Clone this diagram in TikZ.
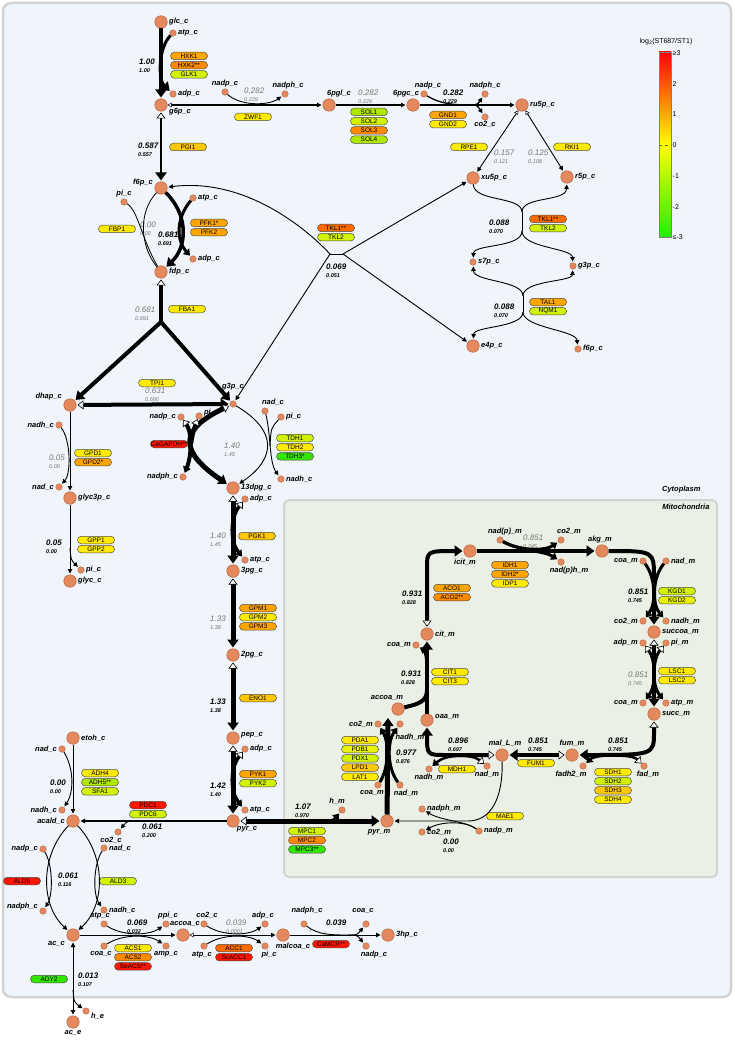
\documentclass[tikz,border=0pt]{standalone}
\usepackage{fontspec}
\setmainfont{Liberation Sans}
\usetikzlibrary{arrows.meta,positioning}

\definecolor{bgblue}{HTML}{EFF5FA}
\definecolor{mitogreen}{HTML}{EAF0E5}
\definecolor{framegray}{HTML}{D3D3D3}
\definecolor{metfill}{HTML}{E3895D}
\definecolor{metdraw}{HTML}{B8653E}
\definecolor{fluxgray}{HTML}{777777}
\definecolor{ered}{HTML}{FF1500}
\definecolor{eorred}{HTML}{FF6A00}
\definecolor{edorange}{HTML}{FF8A00}
\definecolor{eorange}{HTML}{FFA500}
\definecolor{egold}{HTML}{FFC800}
\definecolor{eyellow}{HTML}{FFEA00}
\definecolor{eyg}{HTML}{E6F200}
\definecolor{eygreen}{HTML}{D2F200}
\definecolor{elgreen}{HTML}{AEE800}
\definecolor{egreen}{HTML}{33E600}
\definecolor{bargreen}{HTML}{20EE00}

\newcommand{\fsm}{\fontsize{5.5}{6}\selectfont}

\tikzset{
	tipA/.tip={Triangle[length=4.5pt,width=4.5pt]},
	tipB/.tip={Triangle[length=8pt,width=11pt]},
	tipC/.tip={Triangle[open,length=4pt,width=4.5pt,line width=0.5pt,fill=white]},
	tipD/.tip={Triangle[open,length=6pt,width=9pt,line width=0.6pt,fill=white]},
	tipE/.tip={Triangle[length=6pt,width=8pt]},
	met/.style={circle, draw=metdraw, fill=metfill, line width=0.5pt, minimum size=12.5pt, inner sep=0pt},
	cof/.style={circle, draw=metdraw, fill=metfill, line width=0.4pt, minimum size=6.5pt, inner sep=0pt},
	enz/.style={draw=black!70, fill=#1, line width=0.5pt, rounded corners=3.7pt, minimum width=37pt, minimum height=7.5pt, inner sep=0pt, font=\fontsize{6.5}{7}\selectfont},
	flux/.style={anchor=north west, align=left, inner sep=0pt, font=\fontsize{8}{8}\selectfont\bfseries\itshape},
	fluxg/.style={flux, text=fluxgray, font=\fontsize{8}{8}\selectfont\itshape},
	tick/.style={anchor=west, inner sep=0.5pt, font=\fontsize{7}{8}\selectfont},
	thn/.style={line width=#1, shorten >=1pt, -tipA},
	thn/.default=0.9pt,
	thnr/.style={line width=0.9pt, shorten >=1pt, tipC-tipA},
	flx/.style={line width=#1, shorten >=1pt, -tipB},
	flxr/.style={line width=#1, shorten >=1pt, shorten <=1pt, tipD-tipB},
	sid/.style={line width=#1, shorten >=1pt, -tipE},
	sidr/.style={line width=#1, shorten >=1pt, tipD-tipE},
}

\begin{document}
\begin{tikzpicture}[x=1pt, y=-1pt, label distance=1pt,
	every label/.style={font=\fontsize{7.5}{8}\selectfont\bfseries\itshape, inner sep=0.5pt}]
	\useasboundingbox (0,0) rectangle (735,1040);

	% Frame
	\fill [white] (0,0) rectangle (735,1040);
	\draw [draw=framegray, line width=2.5pt, fill=bgblue, rounded corners=8pt] (3,3) rectangle (731,997);
	\draw [draw=framegray, line width=2pt, fill=mitogreen, rounded corners=5pt] (284,500) rectangle (717,877);
	\node [anchor=east, font=\fontsize{7.5}{8}\selectfont\bfseries\itshape] (cyto) at (704,490) {Cytoplasm};
	\node [anchor=east, font=\fontsize{7.5}{8}\selectfont\bfseries\itshape] (mito) at (713,507) {Mitochondria};

	% Nodes {glycolysis, pentose phosphate}
	\node [met, label=right:glc\_c]					(glc)		at (161,22)		{};
	\node [cof, label=right:atp\_c]					(atp1)		at (173,33)		{};
	\node [cof, label=right:adp\_c]					(adp1)		at (173,94)		{};
	\node [met, label={[yshift=-7pt]right:g6p\_c}]		(g6p)		at (161,105)	{};
	\node [cof, label=above:nadp\_c]				(nadp1)		at (225,92)		{};
	\node [cof, label={[xshift=3pt]above:nadph\_c}]	(nadph1)	at (285,94)		{};
	\node [met, label={[xshift=10pt]above:6pgl\_c}]	(pgl)		at (329,105)	{};
	\node [met, label={[xshift=-7pt]above:6pgc\_c}]	(pgc)		at (413,105)	{};
	\node [cof, label={[xshift=4pt]above:nadp\_c}]	(nadp2)		at (424,94)		{};
	\node [cof, label=above:nadph\_c]				(nadph2)	at (485,94)		{};
	\node [cof, label={[yshift=1pt]below:co2\_c}]		(co21)		at (485,117)	{};
	\node [met, label=right:ru5p\_c]				(ru5p)		at (522,105)	{};
	\node [met, label=right:xu5p\_c]				(xu5p)		at (473,178)	{};
	\node [met, label=right:r5p\_c]					(r5p)		at (567,177)	{};
	\node [cof, label=right:s7p\_c]					(s7p)		at (473,262)	{};
	\node [cof, label=right:g3p\_c]					(g3pb)		at (573,266)	{};
	\node [met, label=right:e4p\_c]					(e4p)		at (473,346)	{};
	\node [cof, label=right:f6p\_c]					(f6pb)		at (578,349)	{};
	\node [met, label={[yshift=5pt]left:f6p\_c}]		(f6p)		at (161,188)	{};
	\node [cof, label=above:pi\_c]					(pi1)		at (124,202)	{};
	\node [cof, label=right:atp\_c]					(atp2)		at (193,198)	{};
	\node [cof, label=right:adp\_c]					(adp2)		at (193,259)	{};
	\node [met, label=right:fdp\_c]					(fdp)		at (161,272)	{};
	\node [met, label={[yshift=8pt]left:dhap\_c}]		(dhap)		at (70,405)		{};
	\node [cof, label={[yshift=9pt]above:g3p\_c}]		(g3p)		at (233,404)	{};
	\node [cof, label=left:nadh\_c]					(nadh1)		at (59,425)		{};
	\node [cof, label=left:nad\_c]					(nad1)		at (59,487)		{};
	\node [met, label=right:glyc3p\_c]				(glyc3p)	at (70,498)		{};
	\node [cof, label=right:pi\_c]					(pi2)		at (81,570)		{};
	\node [met, label=right:glyc\_c]				(glyc)		at (70,581)		{};
	\node [cof, label=left:nadp\_c]					(nadp3)		at (181,417)	{};
	\node [cof, label={[yshift=3pt]right:pi\_c}]		(pi3)		at (199,416)	{};
	\node [cof, label=left:nadph\_c]				(nadph3)	at (183,477)	{};
	\node [cof, label={[xshift=8pt]above:nad\_c}]		(nad2)		at (265,411)	{};
	\node [cof, label=right:pi\_c]					(pi4)		at (281,417)	{};
	\node [cof, label=right:nadh\_c]				(nadh2)		at (281,479)	{};
	\node [met, label=right:13dpg\_c]				(dpg)		at (233,488)	{};
	\node [cof, label=right:adp\_c]					(adp3)		at (245,499)	{};
	\node [cof, label=right:atp\_c]					(atp3)		at (245,560)	{};
	\node [met, label=right:3pg\_c]					(pg3)		at (233,571)	{};
	\node [met, label=right:2pg\_c]					(pg2)		at (233,655)	{};
	\node [met, label={[yshift=3pt]right:pep\_c}]		(pep)		at (233,738)	{};
	\node [cof, label=right:adp\_c]					(adp4)		at (245,749)	{};
	\node [cof, label=right:atp\_c]					(atp4)		at (245,810)	{};
	\node [met, label={[xshift=14pt,yshift=3pt]below:pyr\_c}]	(pyr)	at (233,821)	{};

	% Nodes {ethanol, acetate, malonyl-coa}
	\node [met, label=right:etoh\_c]				(etoh)		at (73,738)		{};
	\node [cof, label=left:nad\_c]					(nad3)		at (62,749)		{};
	\node [cof, label=left:nadh\_c]					(nadh3)		at (62,810)		{};
	\node [met, label=left:acald\_c]				(acald)		at (73,821)		{};
	\node [cof, label={[xshift=-7pt]below:co2\_c}]	(co22)		at (118,832)	{};
	\node [cof, label=right:nad\_c]					(nad4)		at (104,848)	{};
	\node [cof, label=left:nadp\_c]					(nadp4)		at (43,849)		{};
	\node [cof, label={[yshift=4pt]left:nadph\_c}]	(nadph4)	at (43,911)		{};
	\node [cof, label=right:nadh\_c]				(nadh4)		at (104,910)	{};
	\node [cof, label={[xshift=-4pt]above:atp\_c}]	(atp5)		at (104,924)	{};
	\node [met, label={[yshift=-9pt]left:ac\_c}]		(ac)		at (73,935)		{};
	\node [cof, label={[xshift=-3pt]below:coa\_c}]	(coa1)		at (104,946)	{};
	\node [cof, label={[xshift=2pt]above:ppi\_c}]		(ppi1)		at (166,924)	{};
	\node [cof, label=below:amp\_c]					(amp1)		at (166,946)	{};
	\node [met, label={[xshift=2pt]above:accoa\_c}]	(accoa)		at (183,935)	{};
	\node [cof, label={[xshift=3pt]above:co2\_c}]		(co23)		at (204,924)	{};
	\node [cof, label={[xshift=-2pt]below:atp\_c}]	(atp6)		at (204,946)	{};
	\node [cof, label={[xshift=-2pt]above:adp\_c}]	(adp5)		at (265,924)	{};
	\node [cof, label={[xshift=4pt]below:pi\_c}]		(pi5)		at (265,946)	{};
	\node [met, label={[xshift=10pt]below:malcoa\_c}]	(malcoa)	at (283,935)	{};
	\node [cof, label={[xshift=3pt,yshift=5pt]above:nadph\_c}]	(nadph5)	at (304,924)	{};
	\node [cof, label={[xshift=-3pt,yshift=5pt]above:coa\_c}]	(coa2)		at (366,924)	{};
	\node [cof, label={[xshift=8pt]below:nadp\_c}]	(nadp5)		at (366,946)	{};
	\node [met, label=right:3hp\_c]					(hp3)		at (388,935)	{};
	\node [cof, label={[yshift=-5pt]right:h\_e}]		(he)		at (86,1011)	{};
	\node [met, label=below:ac\_e]					(ace)		at (73,1022)	{};

	% Nodes {mitochondria}
	\node [cof, label={[xshift=-5pt]above:h\_m}]		(hm)		at (342,810)	{};
	\node [met, label={[xshift=-8pt]below:pyr\_m}]	(pyrm)		at (387,821)	{};
	\node [cof, label=right:nadph\_m]				(nadph6)	at (422,809)	{};
	\node [cof, label=right:co2\_m]					(co24)		at (422,832)	{};
	\node [cof, label=right:nadp\_m]				(nadp6)		at (479,831)	{};
	\node [cof, label={[xshift=-6pt]below:coa\_m}]	(coa3)		at (378,785)	{};
	\node [cof, label={[xshift=6pt]below:nad\_m}]		(nad5)		at (400,785)	{};
	\node [cof, label=left:co2\_m]					(co25)		at (378,724)	{};
	\node [cof, label={[xshift=10pt,yshift=-5pt]below:nadh\_m}]	(nadh5)	at (400,724)	{};
	\node [met, label={[xshift=-11pt]above:accoa\_m}]	(accoam)	at (398,709)	{};
	\node [met, label={[yshift=3pt]right:oaa\_m}]		(oaam)		at (427,720)	{};
	\node [met, label=right:cit\_m]					(citm)		at (427,634)	{};
	\node [cof, label=left:coa\_m]					(coa4)		at (416,645)	{};
	\node [met, label={[xshift=-5pt]below:icit\_m}]	(icitm)		at (470,551)	{};
	\node [cof, label={[xshift=5pt]above:nad(p)\_m}]	(nadp7)		at (500,540)	{};
	\node [cof, label={[xshift=8pt]above:co2\_m}]		(co26)		at (561,540)	{};
	\node [cof, label={[xshift=8pt]below:nad(p)h\_m}]	(nadph7)	at (561,562)	{};
	\node [met, label={[xshift=-2pt]above:akg\_m}]	(akgm)		at (602,551)	{};
	\node [cof, label=left:coa\_m]					(coa5)		at (643,561)	{};
	\node [cof, label=right:nad\_m]					(nad6)		at (666,561)	{};
	\node [cof, label=left:co2\_m]					(co27)		at (643,621)	{};
	\node [cof, label=right:nadh\_m]				(nadh6)		at (666,621)	{};
	\node [met, label=right:succoa\_m]				(succoam)	at (654,632)	{};
	\node [cof, label=left:adp\_m]					(adp6)		at (643,643)	{};
	\node [cof, label=right:pi\_m]					(pi6)		at (666,643)	{};
	\node [cof, label=left:coa\_m]					(coa6)		at (643,703)	{};
	\node [cof, label=right:atp\_m]					(atp7)		at (666,703)	{};
	\node [met, label=right:succ\_m]				(succm)		at (654,714)	{};
	\node [met, label=above:fum\_m]					(fumm)		at (572,755)	{};
	\node [met, label={[xshift=3pt]above:mal\_L\_m}]	(malm)		at (502,755)	{};
	\node [cof, label=below:nadh\_m]				(nadh7)		at (429,769)	{};
	\node [cof, label=below:nad\_m]					(nad7)		at (487,766)	{};
	\node [cof, label={[xshift=-12pt]below:fadh2\_m}]	(fadh2)		at (583,766)	{};
	\node [cof, label={[xshift=4pt]below:fad\_m}]		(fad)		at (644,766)	{};

	% Enzymes
	\node [enz=eorange]								(HXK1)		at (189,56)		{HXK1};
	\node [enz=edorange, below=1.2pt of HXK1]		(HXK2)						{HXK2**};
	\node [enz=eygreen, below=1.2pt of HXK2]			(GLK1)						{GLK1};
	\node [enz=eyellow]								(ZWF1)		at (253,117)	{ZWF1};
	\node [enz=elgreen]								(SOL1)		at (369,112)	{SOL1};
	\node [enz=eygreen, below=1.2pt of SOL1]			(SOL2)						{SOL2};
	\node [enz=edorange, below=1.2pt of SOL2]		(SOL3)						{SOL3};
	\node [enz=elgreen, below=1.2pt of SOL3]			(SOL4)						{SOL4};
	\node [enz=eorange]								(GND1)		at (448,115)	{GND1};
	\node [enz=eyellow, below=1.2pt of GND1]			(GND2)						{GND2};
	\node [enz=eyellow]								(RPE1)		at (469,147)	{RPE1};
	\node [enz=eyellow]								(RKI1)		at (572,147)	{RKI1};
	\node [enz=eorred]								(TKL1a)		at (548,219)	{TKL1**};
	\node [enz=eygreen, below=1.2pt of TKL1a]		(TKL2a)						{TKL2};
	\node [enz=eorange]								(TAL1)		at (548,302)	{TAL1};
	\node [enz=eygreen, below=1.2pt of TAL1]			(NQM1)						{NQM1};
	\node [enz=eorred]								(TKL1b)		at (336,228)	{TKL1**};
	\node [enz=eygreen, below=1.2pt of TKL1b]		(TKL2b)						{TKL2};
	\node [enz=egold]								(PGI1)		at (188,147)	{PGI1};
	\node [enz=eyellow]								(FBP1)		at (117,229)	{FBP1};
	\node [enz=eorange]								(PFK1)		at (209,223)	{PFK1*};
	\node [enz=eorange, below=1.2pt of PFK1]			(PFK2)						{PFK2};
	\node [enz=eyellow]								(FBA1)		at (187,309)	{FBA1};
	\node [enz=eyellow]								(TPI1)		at (157,383)	{TPI1};
	\node [enz=eyellow]								(GPD1)		at (93,453)		{GPD1};
	\node [enz=eorange, below=1.2pt of GPD1]			(GPD2)						{GPD2*};
	\node [enz=eyellow]								(GPP1)		at (96,540)		{GPP1};
	\node [enz=eyellow, below=1.2pt of GPP1]			(GPP2)						{GPP2};
	\node [enz=ered]									(CaGAPDH)	at (169,444)	{CaGAPDH**};
	\node [enz=eygreen]								(TDH1)		at (295,438)	{TDH1};
	\node [enz=eyellow, below=1.2pt of TDH1]			(TDH2)						{TDH2};
	\node [enz=egreen, below=1.2pt of TDH2]			(TDH3)						{TDH3*};
	\node [enz=egold]								(PGK1)		at (257,536)	{PGK1};
	\node [enz=eorange]								(GPM1)		at (258,608)	{GPM1};
	\node [enz=eyellow, below=1.2pt of GPM1]			(GPM2)						{GPM2};
	\node [enz=eorange, below=1.2pt of GPM2]			(GPM3)						{GPM3};
	\node [enz=egold]								(ENO1)		at (258,698)	{ENO1};
	\node [enz=eorange]								(PYK1)		at (258,774)	{PYK1};
	\node [enz=eygreen, below=1.2pt of PYK1]			(PYK2)						{PYK2};
	\node [enz=eyellow]								(ADH4)		at (100,773)	{ADH4};
	\node [enz=elgreen, below=1.2pt of ADH4]			(ADH5)						{ADH5**};
	\node [enz=eygreen, below=1.2pt of ADH5]			(SFA1)						{SFA1};
	\node [enz=ered]									(PDC1)		at (148,805)	{PDC1};
	\node [enz=eygreen, below=1.2pt of PDC1]			(PDC6)						{PDC6};
	\node [enz=ered]									(ALD6)		at (22,881)		{ALD6};
	\node [enz=eygreen]								(ALD3)		at (118,881)	{ALD3};
	\node [enz=eyellow]								(ACS1)		at (133,948)	{ACS1};
	\node [enz=edorange, below=1.2pt of ACS1]		(ACS2)						{ACS2};
	\node [enz=ered, below=1.2pt of ACS2]			(SeACS)						{SeACS**};
	\node [enz=eorred]								(ACC1)		at (234,948)	{ACC1};
	\node [enz=ered, below=1.2pt of ACC1]			(ScACC1)					{ScACC1};
	\node [enz=ered]									(CaMCR)		at (331,944)	{CaMCR**};
	\node [enz=egreen]								(ADY2)		at (49,979)		{ADY2};
	\node [enz=eygreen]								(MPC1)		at (307,831)	{MPC1};
	\node [enz=edorange, below=1.2pt of MPC1]		(MPC2)						{MPC2};
	\node [enz=egreen, below=1.2pt of MPC2]			(MPC3)						{MPC3**};
	\node [enz=eyellow]								(PDA1)		at (360,740)	{PDA1};
	\node [enz=eyg, below=1.2pt of PDA1]				(PDB1)						{PDB1};
	\node [enz=eygreen, below=1.2pt of PDB1]			(PDX1)						{PDX1};
	\node [enz=egold, below=1.2pt of PDX1]			(LPD1)						{LPD1};
	\node [enz=eyellow, below=1.2pt of LPD1]			(LAT1)						{LAT1};
	\node [enz=eyellow]								(CIT1)		at (450,672)	{CIT1};
	\node [enz=eyellow, below=1.2pt of CIT1]			(CIT3)						{CIT3};
	\node [enz=eorange]								(ACO1)		at (452,588)	{ACO1};
	\node [enz=edorange, below=1.2pt of ACO1]		(ACO2)						{ACO2**};
	\node [enz=eorange]								(IDH1)		at (510,565)	{IDH1};
	\node [enz=eorange, below=1.2pt of IDH1]			(IDH2)						{IDH2*};
	\node [enz=eyellow, below=1.2pt of IDH2]			(IDP1)						{IDP1};
	\node [enz=eygreen]								(KGD1)		at (677,591)	{KGD1};
	\node [enz=eyg, below=1.2pt of KGD1]				(KGD2)						{KGD2};
	\node [enz=eyellow]								(LSC1)		at (677,671)	{LSC1};
	\node [enz=eyellow, below=1.2pt of LSC1]			(LSC2)						{LSC2};
	\node [enz=eyellow]								(SDH1)		at (613,772)	{SDH1};
	\node [enz=eygreen, below=1.2pt of SDH1]			(SDH2)						{SDH2};
	\node [enz=egold, below=1.2pt of SDH2]			(SDH3)						{SDH3};
	\node [enz=eyellow, below=1.2pt of SDH3]			(SDH4)						{SDH4};
	\node [enz=eyellow]								(MDH1)		at (457,769)	{MDH1};
	\node [enz=eyellow]								(FUM1)		at (536,763)	{FUM1};
	\node [enz=eyellow]								(MAE1)		at (505,816)	{MAE1};

	% Fluxes
	\node [flux]	(fHXK)	at (139,59)		{1.00\\\fsm 1.00};
	\node [fluxg]	(fZWF)	at (244,88)		{0.282\\\fsm 0.229};
	\node [fluxg]	(fSOL)	at (358,90)		{0.282\\\fsm 0.229};
	\node [flux]	(fGND)	at (443,90)		{0.282\\\fsm 0.229};
	\node [fluxg]	(fRPE)	at (494,150)	{0.157\\\fsm 0.121};
	\node [fluxg]	(fRKI)	at (528,150)	{0.125\\\fsm 0.108};
	\node [flux]	(fTKLa)	at (489,220)	{0.088\\\fsm 0.070};
	\node [flux]	(fTAL)	at (494,304)	{0.088\\\fsm 0.070};
	\node [flux]	(fTKLb)	at (326,264)	{0.069\\\fsm 0.051};
	\node [flux]	(fPGI)	at (138,143)	{0.587\\\fsm 0.557};
	\node [fluxg]	(fFBP)	at (140,222)	{0.00\\\fsm 0.00};
	\node [flux]	(fPFK)	at (158,232)	{0.681\\\fsm 0.691};
	\node [fluxg]	(fFBA)	at (135,307)	{0.681\\\fsm 0.691};
	\node [fluxg]	(fTPI)	at (145,388)	{0.631\\\fsm 0.690};
	\node [fluxg]	(fGPD)	at (49,455)		{0.05\\\fsm 0.00};
	\node [flux]	(fGPP)	at (46,540)		{0.05\\\fsm 0.00};
	\node [fluxg]	(fGAP)	at (224,443)	{1.40\\\fsm 1.45};
	\node [fluxg]	(fPGK)	at (210,533)	{1.40\\\fsm 1.45};
	\node [fluxg]	(fGPM)	at (210,616)	{1.33\\\fsm 1.38};
	\node [flux]	(fENO)	at (210,699)	{1.33\\\fsm 1.38};
	\node [flux]	(fPYK)	at (210,783)	{1.42\\\fsm 1.40};
	\node [flux]	(fADH)	at (50,780)		{0.00\\\fsm 0.00};
	\node [flux]	(fPDC)	at (142,824)	{0.061\\\fsm 0.200};
	\node [flux]	(fALD)	at (58,873)		{0.061\\\fsm 0.116};
	\node [flux]	(fACS)	at (127,920)	{0.069\\\fsm 0.032};
	\node [fluxg]	(fACC)	at (226,920)	{0.039\\\fsm 0.0001};
	\node [flux]	(fMCR)	at (326,920)	{0.039};
	\node [flux]	(fADY)	at (78,973)		{0.013\\\fsm 0.107};
	\node [flux]	(fMPC)	at (295,804)	{1.07\\\fsm 0.970};
	\node [flux]	(fPDA)	at (396,750)	{0.977\\\fsm 0.876};
	\node [flux]	(fCIT)	at (401,671)	{0.931\\\fsm 0.828};
	\node [flux]	(fACO)	at (402,591)	{0.931\\\fsm 0.828};
	\node [fluxg]	(fIDH)	at (523,535)	{0.851\\\fsm 0.745};
	\node [flux]	(fKGD)	at (628,589)	{0.851\\\fsm 0.745};
	\node [fluxg]	(fLSC)	at (628,672)	{0.851\\\fsm 0.745};
	\node [flux]	(fSDH)	at (608,738)	{0.851\\\fsm 0.745};
	\node [flux]	(fFUM)	at (528,738)	{0.851\\\fsm 0.745};
	\node [flux]	(fMDH)	at (448,738)	{0.896\\\fsm 0.697};
	\node [flux]	(fMAE)	at (443,839)	{0.00\\\fsm 0.00};
	\node [font=\fontsize{3.5}{4}\selectfont, text=fluxgray]	(st1)	at (310,931)	{2};
	\node [font=\fontsize{3.5}{4}\selectfont, text=fluxgray]	(st2)	at (325,933)	{2};
	\node [font=\fontsize{3.5}{4}\selectfont, text=fluxgray]	(st3)	at (361,939)	{2};

	% Paths {glycolysis}
	\draw [flx=3.5pt]	(glc) -- (g6p);
	\draw [flx=3pt]		(atp1) .. controls (158,48) and (158,80) .. (adp1);
	\draw [flxr=2.5pt]	(g6p) -- (f6p);
	\draw [flx=3.5pt]	(f6p) .. controls (188,214) and (188,246) .. (fdp);
	\draw [sid=3pt]		(atp2) .. controls (176,218) and (176,240) .. (adp2);
	\draw [line width=0.8pt]	(fdp) .. controls (140,246) and (138,212) .. (f6p);
	\draw [line width=0.8pt]	(pi1) .. controls (138,210) and (142,240) .. (fdp);
	\coordinate (jFBA) at (161,322);
	\draw [line width=4.5pt, shorten <=1pt, tipD-]	(fdp) -- (jFBA);
	\draw [flx=4pt, line cap=round]	(jFBA) -- (dhap);
	\draw [flx=4pt, line cap=round]	(jFBA) -- (g3p);
	\draw [flxr=4pt]	(dhap) -- (g3p);
	\draw [thn]			(dhap) -- (glyc3p);
	\draw [thn]			(nadh1) .. controls (71,440) and (71,474) .. (nad1);
	\draw [thn]			(glyc3p) -- (glyc);
	\coordinate (jGPP) at (70,548);
	\draw [thn]			(jGPP) .. controls (71,560) .. (pi2);
	\draw [flxr=5pt]	(g3p) .. controls (178,430) and (180,452) .. (dpg);
	\draw [sidr=4pt]	(nadp3) .. controls (192,432) and (192,455) .. (nadph3);
	\coordinate (jGAP) at (191,444);
	\draw [line width=4pt, tipD-]	(pi3) .. controls (194,428) .. (jGAP);
	\draw [thn]			(g3p) .. controls (277,430) and (277,458) .. (dpg);
	\draw [thn]			(nad2) .. controls (271,435) and (269,462) .. (nadh2);
	\coordinate (jTDH) at (270,446);
	\draw [line width=0.9pt]	(pi4) .. controls (271,428) .. (jTDH);
	\draw [flxr=5pt]	(dpg) -- (pg3);
	\draw [sidr=3.5pt]	(adp3) .. controls (230,518) and (230,542) .. (atp3);
	\draw [flxr=5pt]	(pg3) -- (pg2);
	\draw [flxr=5pt]	(pg2) -- (pep);
	\draw [flxr=5pt]	(pep) -- (pyr);
	\draw [sidr=3.5pt]	(adp4) .. controls (230,768) and (230,792) .. (atp4);

	% Paths {pentose phosphate}
	\draw [line width=1.3pt, shorten >=1pt, tipC-tipA]	(g6p) -- (pgl);
	\draw [thn]			(nadp1) .. controls (240,106) and (268,106) .. (nadph1);
	\draw [thn=1.3pt]	(pgl) -- (pgc);
	\draw [thn=1.3pt]	(pgc) -- (ru5p);
	\coordinate (jGND) at (468,105);
	\draw [line width=1.3pt]	(nadp2) .. controls (440,104) and (455,105) .. (jGND);
	\draw [thn=1.3pt]	(jGND) .. controls (477,105) .. (nadph2);
	\draw [thn=1.3pt]	(jGND) .. controls (477,105) .. (co21);
	\draw [thnr]		(ru5p) -- (xu5p);
	\draw [thnr]		(ru5p) -- (r5p);
	\coordinate (jTa) at (522,212);
	\coordinate (jTb) at (522,231);
	\draw [line width=0.9pt]	(xu5p) .. controls (474,202) and (522,196) .. (jTa);
	\draw [thn]			(jTa) .. controls (522,196) and (566,202) .. (r5p);
	\draw [line width=0.9pt]	(jTa) -- (jTb);
	\draw [thn]			(jTb) .. controls (522,248) and (474,244) .. (s7p);
	\draw [thn]			(jTb) .. controls (522,248) and (572,248) .. (g3pb);
	\coordinate (jLa) at (523,296);
	\coordinate (jLb) at (523,312);
	\draw [thn]			(jLa) .. controls (523,280) and (474,282) .. (s7p);
	\draw [thn]			(jLa) .. controls (523,280) and (572,282) .. (g3pb);
	\draw [line width=0.9pt]	(jLa) -- (jLb);
	\draw [thn]			(jLb) .. controls (523,328) and (474,326) .. (e4p);
	\draw [thn]			(jLb) .. controls (523,328) and (576,330) .. (f6pb);
	\coordinate (jKa) at (330,254);
	\coordinate (jKb) at (343,254);
	\draw [line width=0.9pt]	(jKa) -- (jKb);
	\draw [thn]			(jKb) -- (xu5p);
	\draw [thn]			(jKb) -- (e4p);
	\draw [thn]			(jKa) .. controls (300,222) and (240,178) .. (f6p);
	\draw [thn]			(jKa) -- (g3p);

	% Paths {ethanol, acetate, malonyl-coa}
	\draw [thn=1.3pt]	(pyr) -- (acald);
	\coordinate (jPDC) at (140,821);
	\draw [thn]			(jPDC) .. controls (127,821) .. (co22);
	\draw [thn]			(etoh) -- (acald);
	\draw [thn]			(nad3) .. controls (74,768) and (74,792) .. (nadh3);
	\draw [thn]			(acald) .. controls (40,855) and (40,905) .. (ac);
	\draw [thn]			(nadp4) .. controls (53,865) and (53,895) .. (nadph4);
	\draw [thn]			(acald) .. controls (106,855) and (106,905) .. (ac);
	\draw [thn]			(nad4) .. controls (93,865) and (93,895) .. (nadh4);
	\draw [line width=0.9pt, shorten >=1pt, shorten <=1pt, tipA-tipA]	(ac) -- (ace);
	\coordinate (jADY) at (73,990);
	\draw [thn]			(jADY) .. controls (74,1002) .. (he);
	\draw [thn]			(ac) -- (accoa);
	\draw [thn]			(atp5) .. controls (122,936) and (148,936) .. (ppi1);
	\draw [thn]			(coa1) .. controls (122,934) and (148,934) .. (amp1);
	\draw [thnr]		(accoa) -- (malcoa);
	\draw [thn]			(co23) .. controls (222,936) and (248,936) .. (adp5);
	\draw [thn]			(atp6) .. controls (222,934) and (248,934) .. (pi5);
	\draw [thn]			(malcoa) -- (hp3);
	\coordinate (jMCR) at (348,935);
	\draw [line width=0.9pt]	(nadph5) .. controls (318,935) and (332,935) .. (jMCR);
	\draw [thn]			(jMCR) .. controls (357,935) .. (coa2);
	\draw [thn]			(jMCR) .. controls (357,935) .. (nadp5);

	% Paths {mitochondria}
	\draw [flxr=5pt]	(pyr) -- (pyrm);
	\coordinate (jMPC) at (318,821);
	\draw [sid=3pt]		(jMPC) .. controls (333,821) .. (hm);
	\coordinate (aPDA) at (388,717);
	\draw [flx=5pt]		(pyrm) -- (aPDA);
	\draw [sid=3pt]		(coa3) .. controls (389,768) and (389,742) .. (co25);
	\draw [sid=3pt]		(nad5) .. controls (387,768) and (387,742) .. (nadh5);
	\coordinate (jCIT) at (427,690);
	\draw [line width=4pt]	(accoam) .. controls (418,704) and (427,702) .. (jCIT);
	\draw [flx=4pt]		(oaam) -- (citm);
	\coordinate (jCOA) at (427,668);
	\draw [sid=3pt]		(jCOA) .. controls (427,655) and (424,650) .. (coa4);
	\coordinate (cACO) at (427,568);
	\draw [flxr=4pt]	(citm) -- (cACO) .. controls (427,551) .. (icitm);
	\draw [flx=4pt]		(icitm) -- (akgm);
	\draw [sid=3pt]		(nadp7) .. controls (520,551) and (545,551) .. (co26);
	\draw [sid=3pt]		(nadp7) .. controls (520,551) and (545,551) .. (nadph7);
	\coordinate (cKGD) at (654,578);
	\draw [flx=4pt]		(akgm) .. controls (654,551) .. (cKGD) -- (succoam);
	\draw [sid=3pt]		(coa5) .. controls (656,578) and (656,604) .. (co27);
	\draw [sid=3pt]		(nad6) .. controls (652,578) and (652,604) .. (nadh6);
	\draw [flxr=4pt]	(succoam) -- (succm);
	\draw [sidr=3pt]	(adp6) .. controls (656,660) and (656,686) .. (coa6);
	\draw [sidr=3pt]	(pi6) .. controls (652,660) and (652,686) .. (atp7);
	\coordinate (cSDH) at (654,732);
	\draw [flxr=4pt]	(succm) -- (cSDH) .. controls (654,755) .. (fumm);
	\draw [sidr=2.5pt]	(fad) .. controls (632,754) and (596,754) .. (fadh2);
	\draw [flxr=4pt]	(fumm) -- (malm);
	\coordinate (cMDH) at (446,755);
	\draw [flxr=4pt]	(malm) -- (cMDH) .. controls (427,755) .. (oaam);
	\draw [sidr=2.5pt]	(nad7) .. controls (472,754) and (446,754) .. (nadh7);
	\coordinate (cMAE) at (468,821);
	\draw [thn]			(malm) .. controls (503,800) and (490,821) .. (cMAE) -- (pyrm);
	\draw [thn]			(nadp6) .. controls (466,821) and (442,821) .. (nadph6);
	\draw [thn]			(nadp6) .. controls (466,821) and (442,821) .. (co24);

	% Legend
	\node [font=\fontsize{7}{8}\selectfont] (ltitle) at (666,42) {log\textsubscript{2}(ST687/ST1)};
	\shade [top color=red, bottom color=yellow] (659,52) rectangle (671,145);
	\shade [top color=yellow, bottom color=bargreen] (659,145) rectangle (671,237);
	\draw [gray, line width=0.4pt] (659,52) rectangle (671,237);
	\draw [black!60, dashed, line width=0.6pt] (659,145) -- (671,145);
	\node [tick] (tk1) at (672,53)  {≥3};
	\node [tick] (tk2) at (672,84)  {2};
	\node [tick] (tk3) at (672,114) {1};
	\node [tick] (tk4) at (672,145) {0};
	\node [tick] (tk5) at (672,176) {-1};
	\node [tick] (tk6) at (672,207) {-2};
	\node [tick] (tk7) at (672,237) {≤-3};

\end{tikzpicture}
\end{document}
